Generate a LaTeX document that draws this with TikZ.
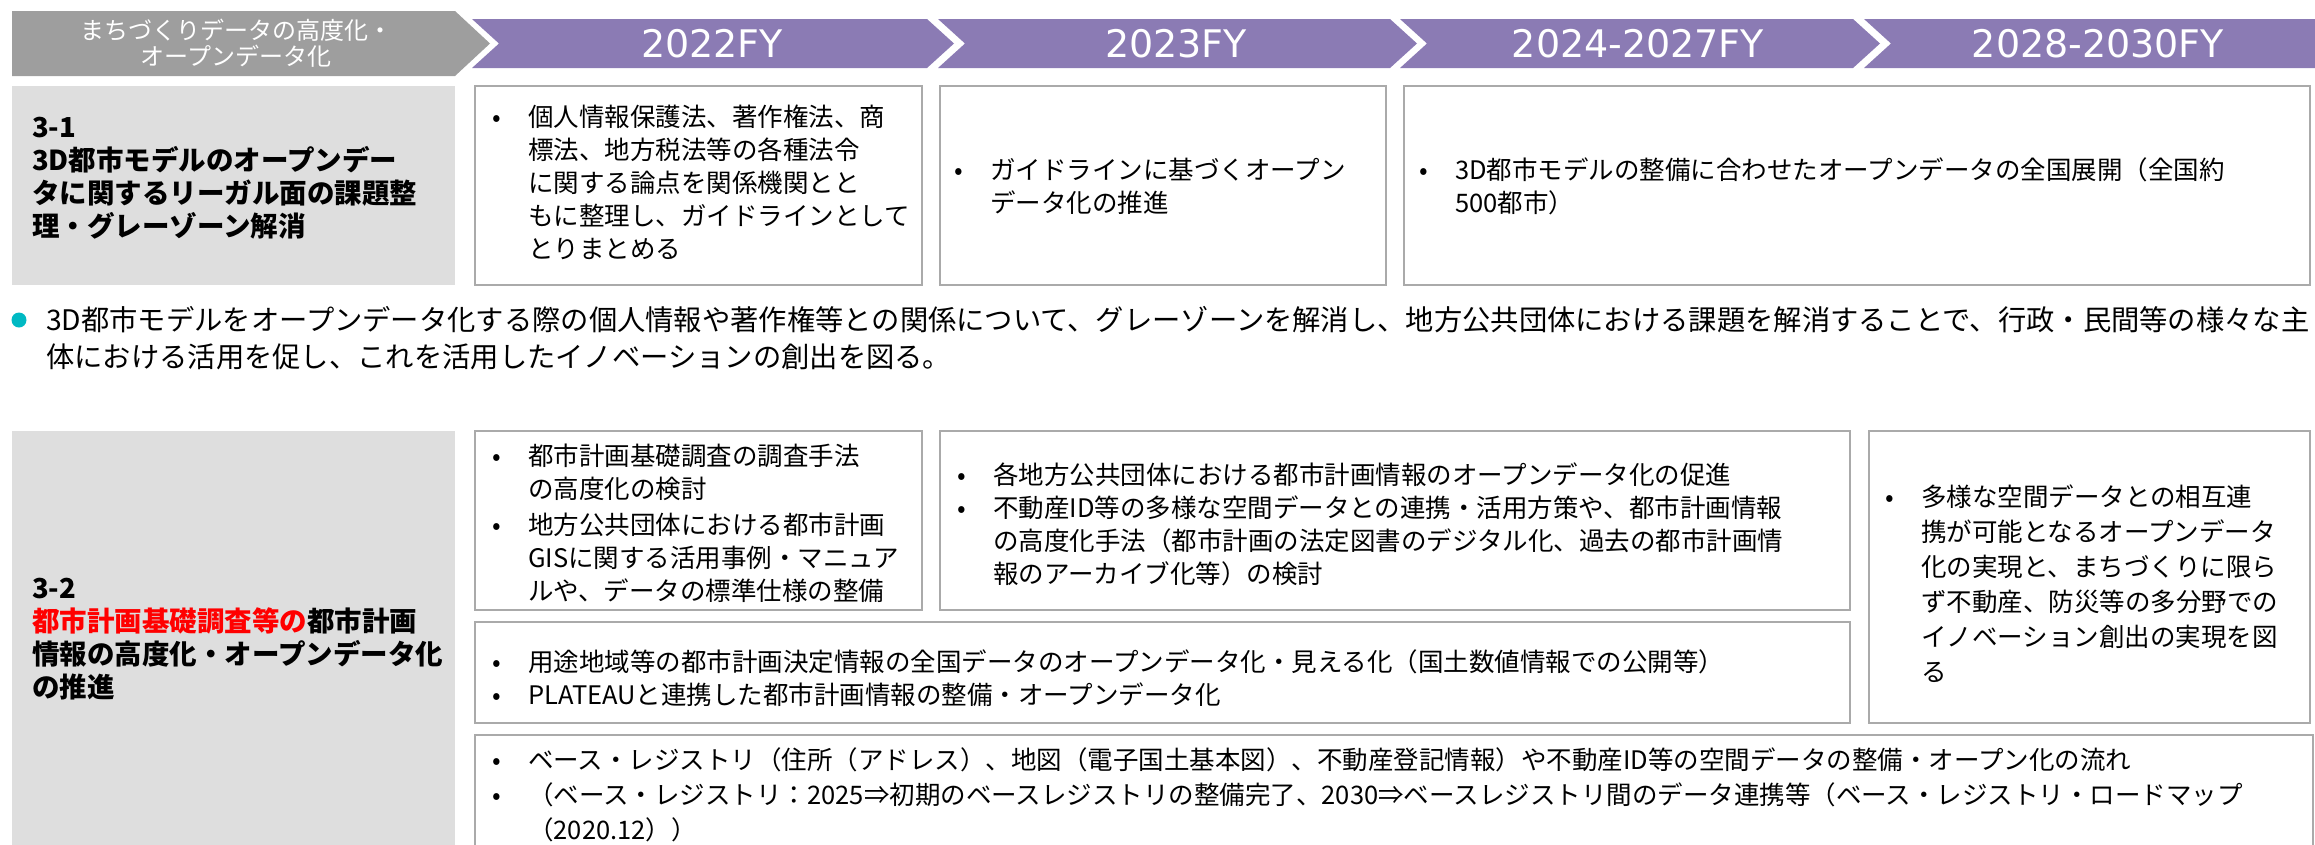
\documentclass[tikz,border=0pt]{standalone}
\usepackage{fontspec}
\setmainfont{Noto Sans CJK JP}
\newfontfamily\yrfont{DejaVu Sans}
\usepackage{xcolor}
\definecolor{purp}{RGB}{139,123,180}
\definecolor{hdgray}{RGB}{158,158,158}
\definecolor{lblgray}{RGB}{222,222,222}
\definecolor{edge}{RGB}{170,170,170}
\definecolor{dotcyan}{RGB}{0,185,195}
\newcommand{\bul}{\makebox[36pt][l]{•}}
\newcommand{\ind}{\hspace*{36pt}}

\begin{document}
\begin{tikzpicture}[x=1pt,y=-1pt,
    box/.style={draw=edge,line width=1.4pt,fill=white},
    txt/.style={anchor=west,align=left,inner sep=0pt,font=\fontsize{25.5}{33}\selectfont},
    ttl/.style={anchor=west,align=left,inner sep=0pt,font=\fontsize{27.5}{33}\selectfont\bfseries},
    yr/.style={text=white,inner sep=0pt,font=\yrfont\fontsize{38}{42}\selectfont}]
      \useasboundingbox (0,0) rectangle (2315,844);
      \clip (0,0) rectangle (2315,844);
      \fill[hdgray] (12,11) -- (455,11) -- (490,43.5) -- (455,76) -- (12,76) -- cycle;
      \node[text=white,align=center,inner sep=0pt,font=\fontsize{24}{26}\selectfont] (hd) at (236,43) {まちづくりデータの高度化・\\オープンデータ化};
      \fill[purp] (472,19) -- (927,19) -- (954,43.5) -- (927,68) -- (472,68) -- (499,43.5) -- cycle;
      \fill[purp] (938,19) -- (1390,19) -- (1417,43.5) -- (1390,68) -- (938,68) -- (965,43.5) -- cycle;
      \fill[purp] (1400,19) -- (1853,19) -- (1880,43.5) -- (1853,68) -- (1400,68) -- (1427,43.5) -- cycle;
      \fill[purp] (1864,19) -- (2315,19) -- (2315,68) -- (1864,68) -- (1891,43.5) -- cycle;
      \node[yr] (yr1) at (712,43.5) {2022FY};
      \node[yr] (yr2) at (1176,43.5) {2023FY};
      \node[yr] (yr3) at (1638,43.5) {2024-2027FY};
      \node[yr] (yr4) at (2098,43.5) {2028-2030FY};

      \fill[lblgray] (12,86) rectangle (455,285);
      \node[ttl] (lb1) at (32,178) {3-1\\3D都市モデルのオープンデー\\タに関するリーガル面の課題整\\理・グレーゾーン解消};
      \draw[box] (475,86) rectangle (922,285);
      \node[txt] (ta) at (492,182) {\bul 個人情報保護法、著作権法、商\\\ind 標法、地方税法等の各種法令\\\ind に関する論点を関係機関とと\\\ind もに整理し、ガイドラインとして\\\ind とりまとめる};
      \draw[box] (940,86) rectangle (1386,285);
      \node[txt] (tb) at (954,186) {\bul ガイドラインに基づくオープン\\\ind データ化の推進};
      \draw[box] (1404,86) rectangle (2310,285);
      \node[txt] (tc) at (1419,186) {\bul 3D都市モデルの整備に合わせたオープンデータの全国展開（全国約\\\ind 500都市）};

      \node[circle,fill=dotcyan,minimum size=15pt,inner sep=0pt] (dot) at (19,320) {};
      \node[anchor=west,align=left,inner sep=0pt,font=\fontsize{28.3}{37}\selectfont] (pg) at (46,338) {3D都市モデルをオープンデータ化する際の個人情報や著作権等との関係について、グレーゾーンを解消し、地方公共団体における課題を解消することで、行政・民間等の様々な主\\体における活用を促し、これを活用したイノベーションの創出を図る。};

      \fill[lblgray] (12,431) rectangle (455,850);
      \node[ttl] (lb2) at (32,639) {3-2\\\textcolor{red}{都市計画基礎調査等の}都市計画\\情報の高度化・オープンデータ化\\の推進};
      \draw[box] (475,431) rectangle (922,610);
      \node[txt] (td) at (492,523) {\bul 都市計画基礎調査の調査手法\\\ind の高度化の検討\\[3pt]\bul 地方公共団体における都市計画\\\ind GISに関する活用事例・マニュア\\\ind ルや、データの標準仕様の整備};
      \draw[box] (940,431) rectangle (1850,610);
      \node[txt] (te) at (957,524) {\bul 各地方公共団体における都市計画情報のオープンデータ化の促進\\\bul 不動産ID等の多様な空間データとの連携・活用方策や、都市計画情報\\\ind の高度化手法（都市計画の法定図書のデジタル化、過去の都市計画情\\\ind 報のアーカイブ化等）の検討};
      \draw[box] (1869,431) rectangle (2310,723);
      \node[txt,font=\fontsize{25.5}{35}\selectfont] (tf) at (1885,584) {\bul 多様な空間データとの相互連\\\ind 携が可能となるオープンデータ\\\ind 化の実現と、まちづくりに限ら\\\ind ず不動産、防災等の多分野での\\\ind イノベーション創出の実現を図\\\ind る};
      \draw[box] (475,622) rectangle (1850,723);
      \node[txt] (tg) at (492,678) {\bul 用途地域等の都市計画決定情報の全国データのオープンデータ化・見える化（国土数値情報での公開等）\\\bul PLATEAUと連携した都市計画情報の整備・オープンデータ化};
      \draw[box] (475,735) rectangle (2313,870);
      \node[txt,font=\fontsize{25.5}{35}\selectfont] (th) at (492,795) {\bul ベース・レジストリ（住所（アドレス）、地図（電子国土基本図）、不動産登記情報）や不動産ID等の空間データの整備・オープン化の流れ\\\bul （ベース・レジストリ：2025⇒初期のベースレジストリの整備完了、2030⇒ベースレジストリ間のデータ連携等（ベース・レジストリ・ロードマップ\\\ind （2020.12））};
\end{tikzpicture}
\end{document}
